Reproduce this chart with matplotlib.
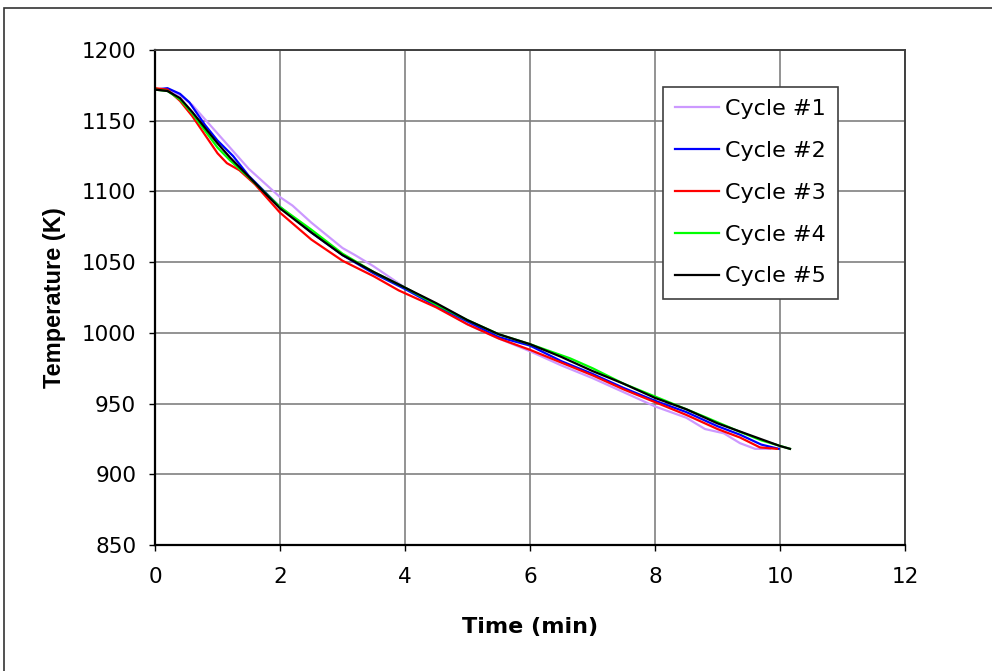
import matplotlib
matplotlib.use("Agg")
import matplotlib.pyplot as plt
from matplotlib.patches import Rectangle

plt.rcParams['font.family'] = ['DejaVu Sans']

# cycle #1 (lilac)
t1 = [0, 0.2, 0.4, 0.6, 0.8, 1.0, 1.2, 1.5, 1.8, 2.0, 2.2, 2.5, 3.0, 3.2, 3.5, 4.0, 4.5,
      5.0, 5.5, 6.0, 6.5, 7.0, 7.5, 8.0, 8.5, 8.8, 9.1, 9.36, 9.6, 9.84]
T1 = [1172, 1172, 1168, 1161, 1151, 1141, 1131, 1116, 1104, 1096, 1090, 1078, 1060, 1055, 1047, 1032, 1019,
      1006, 996, 987, 977, 968, 958, 948, 940, 932, 929, 922, 918, 918]

# cycle #2 (blue)
t2 = [0, 0.2, 0.4, 0.55, 0.8, 1.0, 1.25, 1.5, 2.0, 2.5, 3.0, 3.5, 4.0, 4.5, 5.0, 5.5,
      6.0, 6.5, 7.0, 7.5, 8.0, 8.5, 9.0, 9.36, 9.7, 9.98]
T2 = [1172, 1173, 1169, 1163, 1147, 1136, 1125, 1111, 1089, 1071, 1055, 1042, 1031, 1019, 1008, 997,
      991, 980, 971, 961, 952, 944, 934, 928, 921, 918]

# cycle #3 (red)
t3 = [0, 0.2, 0.4, 0.6, 0.8, 1.0, 1.15, 1.35, 1.6, 2.0, 2.5, 3.0, 3.5, 3.9, 4.5, 5.0, 5.5,
      6.0, 6.5, 7.0, 7.5, 8.0, 8.5, 9.0, 9.36, 9.68, 9.95]
T3 = [1173, 1172, 1164, 1153, 1140, 1127, 1120, 1115, 1105, 1085, 1066, 1051, 1040, 1030, 1018, 1006, 996,
      988, 979, 970, 960, 951, 942, 932, 926, 919, 918]

# cycle #4 (green)
t4 = [0, 0.2, 0.4, 0.6, 0.8, 1.0, 1.2, 1.5, 2.0, 2.5, 3.0, 3.5, 4.0, 4.5, 5.0, 5.5,
      6.0, 6.64, 7.0, 7.5, 8.0, 8.5, 8.83, 9.36, 9.7, 10.16]
T4 = [1172, 1171, 1165, 1155, 1143, 1131, 1122, 1110, 1089, 1073, 1056, 1043, 1032, 1020, 1009, 999,
      992, 982, 975, 964, 955, 946, 940, 930, 924, 918]

# cycle #5 (black)
t5 = [0, 0.2, 0.4, 0.6, 0.8, 1.0, 1.2, 1.4, 1.6, 2.0, 2.5, 3.0, 3.5, 4.0, 4.5, 5.0, 5.5,
      6.0, 6.5, 7.0, 7.5, 8.0, 8.5, 9.0, 9.5, 10.0, 10.16]
T5 = [1172, 1171, 1166, 1156, 1145, 1134, 1124, 1115, 1106, 1088, 1071, 1055, 1043, 1032, 1021, 1009, 999,
      992, 983, 973, 964, 954, 946, 936, 928, 920, 918]

labels = ['Cycle #1', 'Cycle #2', 'Cycle #3', 'Cycle #4', 'Cycle #5']
colors = ['#CC99FF', '#0000FF', '#FF0000', '#00FF00', '#000000']
xticks = [0, 2, 4, 6, 8, 10, 12]
yticks = [850, 900, 950, 1000, 1050, 1100, 1150, 1200]

fig = plt.figure(figsize=(9.92, 6.71), dpi=100)
ax = fig.add_axes([155/992, 1 - 545/671, 750/992, 495/671])

# outer chart border (only left/top visible)
fig.patches.append(Rectangle((4/992, -0.05), 1.1, 1 - 8/671 + 0.05, transform=fig.transFigure,
                             fill=False, edgecolor='#333333', linewidth=1.2, clip_on=False))

for t, T, c, lab in zip([t1, t2, t3, t4, t5], [T1, T2, T3, T4, T5], colors, labels):
    ax.plot(t, T, color=c, linewidth=1.6, label=lab)

ax.set_xlim(0, 12)
ax.set_ylim(850, 1200)
ax.set_xticks(xticks)
ax.set_yticks(yticks)
ax.grid(True, color='#808080', linewidth=1.2)
ax.set_axisbelow(True)

for s in ['left', 'bottom']:
    ax.spines[s].set_color('black')
    ax.spines[s].set_linewidth(1.6)
for s in ['top', 'right']:
    ax.spines[s].set_color('#404040')
    ax.spines[s].set_linewidth(1.4)

ax.tick_params(axis='both', direction='out', length=4.5, width=1.0, labelsize=15.5, colors='black')
ax.tick_params(axis='x', pad=11)
ax.tick_params(axis='y', pad=9)

ax.set_xlabel('Time (min)', fontsize=16, fontweight='bold')
ax.set_ylabel('Temperature (K)', fontsize=17, fontweight='bold', family='Liberation Sans')
ax.xaxis.set_label_coords(0.5, -0.145)
ax.yaxis.set_label_coords(-0.118, 0.5)

leg = ax.legend(loc='upper left', bbox_to_anchor=((663 - 155) / 750, (545 - 87) / 495),
                borderaxespad=0, fontsize=16, fancybox=False, framealpha=1,
                edgecolor='#404040', handlelength=1.95, handletextpad=0.3,
                labelspacing=0.98, borderpad=0.55)
leg.get_frame().set_linewidth(1.2)

fig.savefig('out.png', dpi=100)
